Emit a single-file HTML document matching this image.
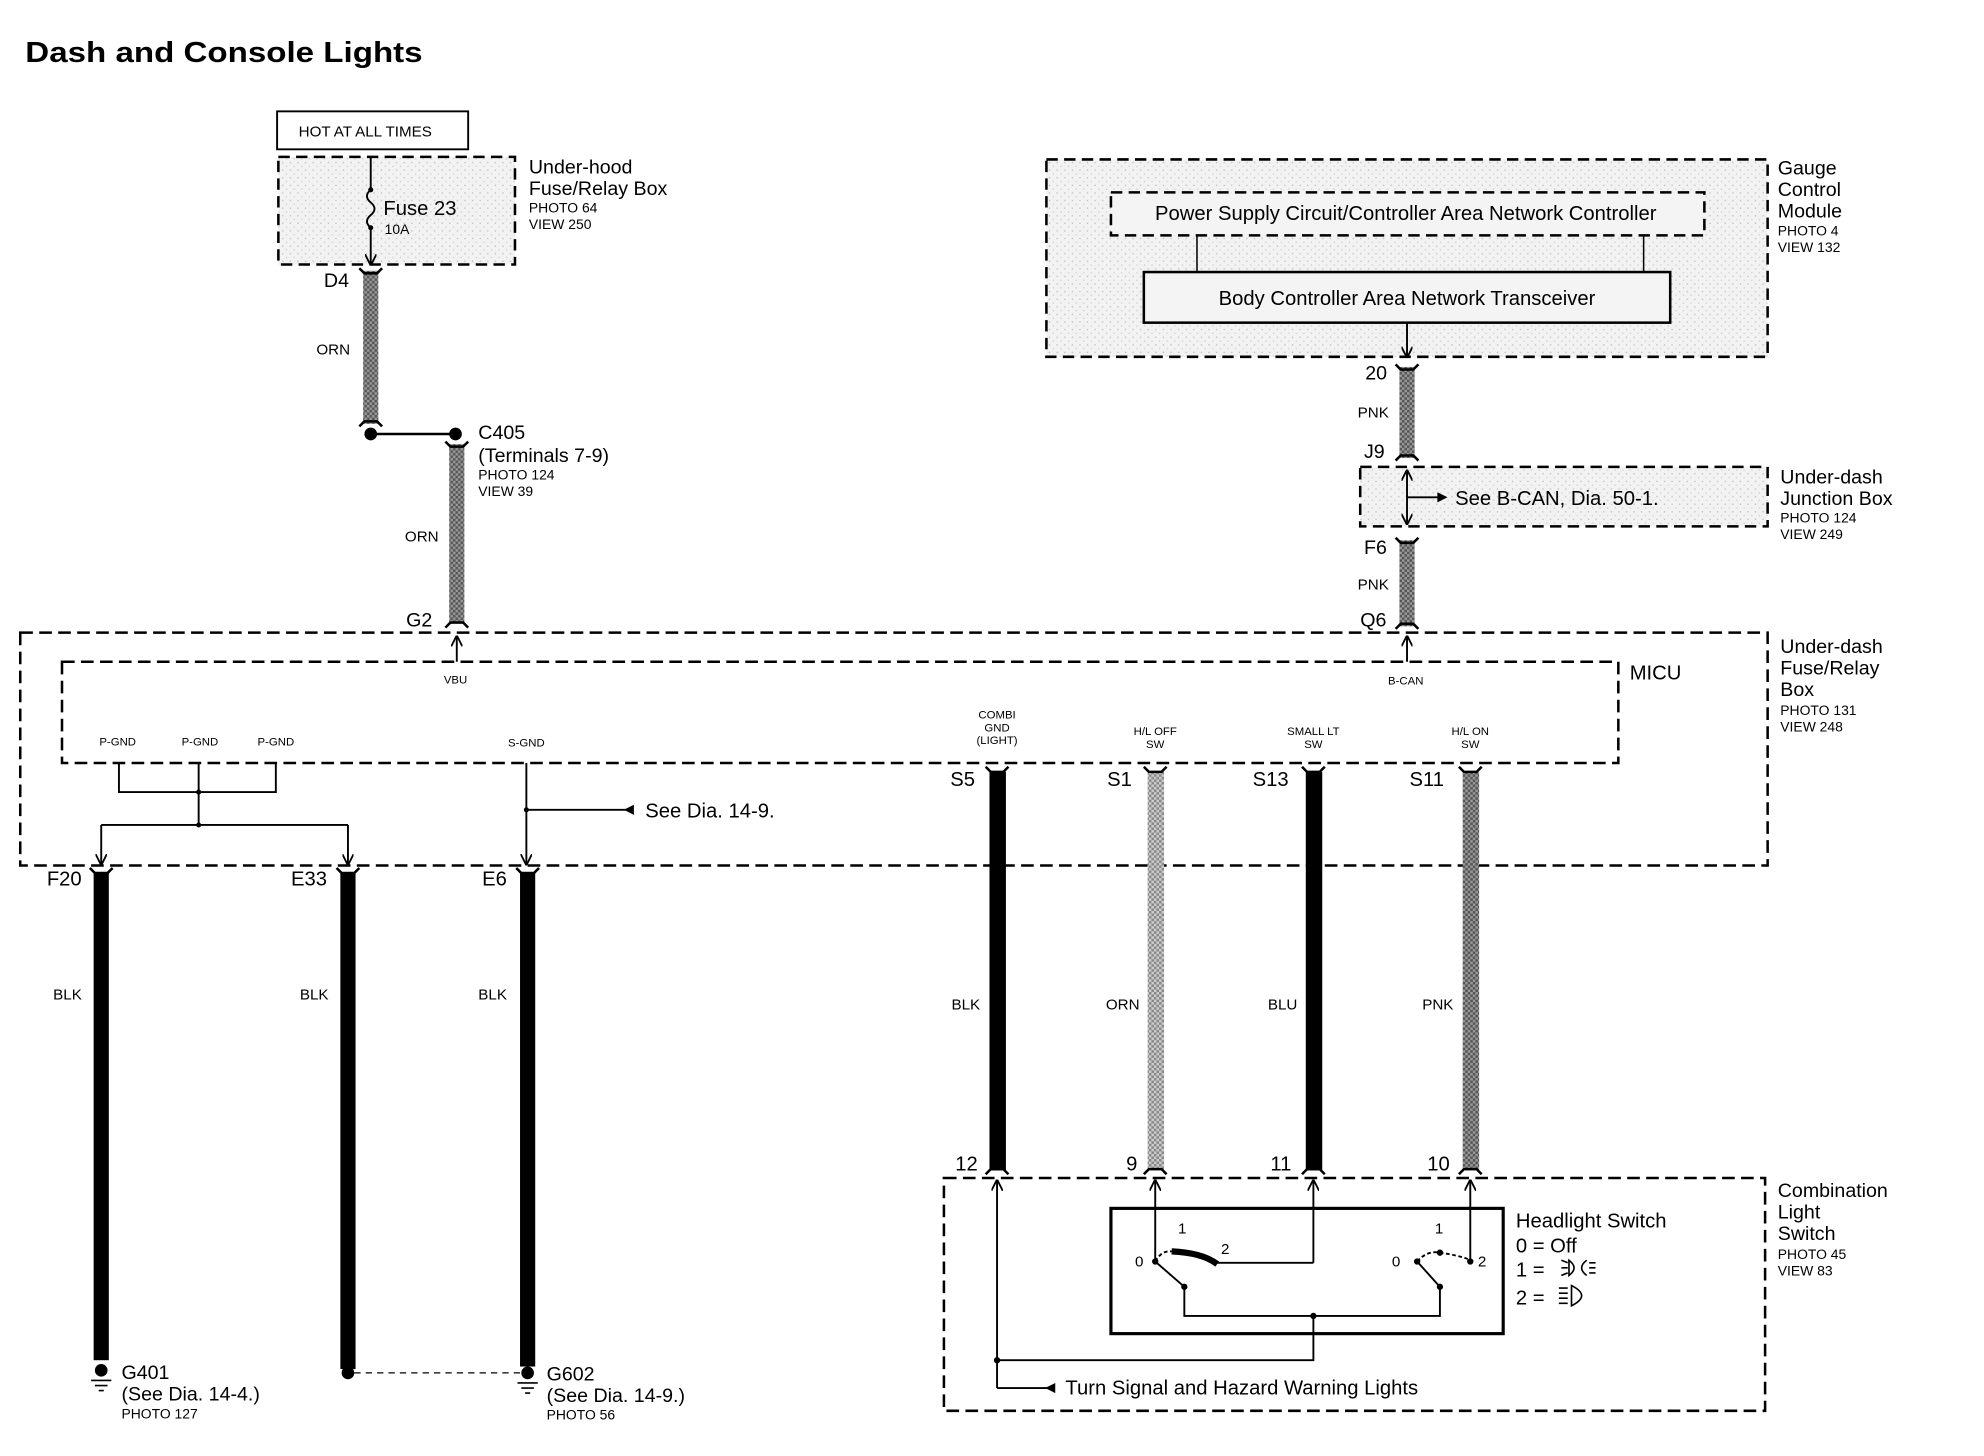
<!DOCTYPE html>
<html><head><meta charset="utf-8"><style>
html,body{margin:0;padding:0;background:#fff;}
svg{display:block;}
text{font-family:"Liberation Sans",sans-serif;fill:#000;}
.s{font-size:11px}
.m{font-size:15.5px}
.w{font-size:12px}
</style></head><body>
<svg width="1984" height="1456" viewBox="0 0 1568 1150.7" xmlns="http://www.w3.org/2000/svg">
<defs>
<pattern id="dots" width="6" height="6" patternUnits="userSpaceOnUse"><rect width="6" height="6" fill="#f2f2f2"/><rect x="1" y="2" width="1" height="1" fill="#bbb"/><rect x="4" y="5" width="1" height="1" fill="#ccc"/></pattern>
<pattern id="hatch" width="4" height="4" patternUnits="userSpaceOnUse"><rect width="4" height="4" fill="#999"/><rect width="2" height="2" fill="#555"/><rect x="2" y="2" width="2" height="2" fill="#555"/></pattern>
<pattern id="hatchL" width="4" height="4" patternUnits="userSpaceOnUse"><rect width="4" height="4" fill="#ccc"/><rect width="2" height="2" fill="#888"/><rect x="2" y="2" width="2" height="2" fill="#888"/></pattern>
<marker id="ah" viewBox="0 0 10 10" refX="9" refY="5" markerWidth="6" markerHeight="6" orient="auto"><path d="M0,0 L10,5 L0,10" fill="none" stroke="#000" stroke-width="1.6"/></marker>
</defs>
<text x="20" y="49" font-size="23" font-weight="bold" textLength="314" lengthAdjust="spacingAndGlyphs">Dash and Console Lights</text>

<rect x="219" y="88" width="151" height="30" fill="#fff" stroke="#000" stroke-width="1.5"/>
<text x="236" y="108" class="w">HOT AT ALL TIMES</text>
<rect x="220" y="124" width="187" height="85" fill="url(#dots)" stroke="#000" stroke-width="2" stroke-dasharray="9,5"/>
<path d="M293,124 V150 q-6,5 0,10 q6,5 0,10 q-6,5 0,10 V209" fill="none" stroke="#000" stroke-width="1.5" marker-end="url(#ah)"/>
<circle cx="293" cy="150" r="2" /><circle cx="293" cy="180" r="2"/>
<text x="303" y="170" font-size="16">Fuse 23</text><text x="304" y="185" class="s">10A</text>
<text x="418" y="137" class="m">Under-hood</text><text x="418" y="154" class="m">Fuse/Relay Box</text>
<text x="418" y="168" class="s">PHOTO 64</text><text x="418" y="181" class="s">VIEW 250</text>
<text x="256" y="227" class="m">D4</text>
<rect x="287" y="214" width="12" height="121" fill="url(#hatch)"/>
<path d="M284,212 l4,4 h10 l4,-4 M284,337 l4,-4 h10 l4,4" stroke="#000" stroke-width="2" fill="none"/>
<text x="250" y="280" class="w">ORN</text>
<circle cx="293" cy="343" r="5"/><line x1="293" y1="343" x2="360" y2="343" stroke="#000" stroke-width="2"/><circle cx="360" cy="343" r="5"/>
<text x="378" y="347" class="m">C405</text><text x="378" y="365" class="m">(Terminals 7-9)</text>
<text x="378" y="379" class="s">PHOTO 124</text><text x="378" y="392" class="s">VIEW 39</text>
<rect x="355" y="351" width="12" height="142" fill="url(#hatch)"/>
<path d="M352,349 l4,4 h10 l4,-4 M352,496 l4,-4 h10 l4,4" stroke="#000" stroke-width="2" fill="none"/>
<text x="320" y="428" class="w">ORN</text>
<text x="321" y="495" class="m">G2</text>
<line x1="361" y1="523" x2="361" y2="503" stroke="#000" stroke-width="1.5" marker-end="url(#ah)"/>

<rect x="827" y="126" width="570" height="156" fill="url(#dots)" stroke="#000" stroke-width="2" stroke-dasharray="9,5"/>
<rect x="878" y="152" width="469" height="34" fill="#f4f4f4" stroke="#000" stroke-width="2" stroke-dasharray="9,5"/>
<text x="1111" y="174" font-size="16" text-anchor="middle">Power Supply Circuit/Controller Area Network Controller</text>
<line x1="946" y1="186" x2="946" y2="215" stroke="#000" stroke-width="1.2"/><line x1="1299" y1="186" x2="1299" y2="215" stroke="#000" stroke-width="1.2"/>
<rect x="904" y="215" width="416" height="40" fill="#f4f4f4" stroke="#000" stroke-width="2"/>
<text x="1112" y="241" font-size="16" text-anchor="middle">Body Controller Area Network Transceiver</text>
<line x1="1112" y1="255" x2="1112" y2="282" stroke="#000" stroke-width="1.5" marker-end="url(#ah)"/>
<text x="1405" y="138" class="m">Gauge</text><text x="1405" y="155" class="m">Control</text><text x="1405" y="172" class="m">Module</text>
<text x="1405" y="186" class="s">PHOTO 4</text><text x="1405" y="199" class="s">VIEW 132</text>
<rect x="1106" y="290" width="12" height="72" fill="url(#hatch)"/>
<path d="M1103,288 l4,4 h10 l4,-4 M1103,364 l4,-4 h10 l4,4" stroke="#000" stroke-width="2" fill="none"/>
<text x="1079" y="300" class="m">20</text><text x="1073" y="330" class="w">PNK</text><text x="1078" y="362" class="m">J9</text>
<rect x="1075" y="369" width="322" height="47" fill="url(#dots)" stroke="#000" stroke-width="2" stroke-dasharray="9,5"/>
<line x1="1112" y1="393" x2="1112" y2="372" stroke="#000" stroke-width="1.5" marker-end="url(#ah)"/>
<line x1="1112" y1="393" x2="1112" y2="414" stroke="#000" stroke-width="1.5" marker-end="url(#ah)"/>
<line x1="1112" y1="393" x2="1140" y2="393" stroke="#000" stroke-width="1.5"/>
<path d="M1136,389 L1144,393 L1136,397z"/>
<text x="1150" y="399" font-size="16">See B-CAN, Dia.  50-1.</text>
<text x="1407" y="382" class="m">Under-dash</text><text x="1407" y="399" class="m">Junction Box</text>
<text x="1407" y="413" class="s">PHOTO 124</text><text x="1407" y="426" class="s">VIEW 249</text>
<rect x="1106" y="427" width="12" height="68" fill="url(#hatch)"/>
<path d="M1103,425 l4,4 h10 l4,-4 M1103,497 l4,-4 h10 l4,4" stroke="#000" stroke-width="2" fill="none"/>
<text x="1078" y="438" class="m">F6</text><text x="1073" y="466" class="w">PNK</text><text x="1075" y="495" class="m">Q6</text>
<line x1="1112" y1="523" x2="1112" y2="503" stroke="#000" stroke-width="1.5" marker-end="url(#ah)"/>

<rect x="16" y="500" width="1381" height="184" fill="none" stroke="#000" stroke-width="2" stroke-dasharray="10,5"/>
<rect x="49" y="523" width="1230" height="80" fill="none" stroke="#000" stroke-width="2" stroke-dasharray="10,5"/>
<text x="1288" y="537" font-size="16">MICU</text>
<text x="1407" y="516" class="m">Under-dash</text><text x="1407" y="533" class="m">Fuse/Relay</text><text x="1407" y="550" class="m">Box</text>
<text x="1407" y="565" class="s">PHOTO 131</text><text x="1407" y="578" class="s">VIEW 248</text>
<text x="360" y="540" font-size="9" text-anchor="middle">VBU</text>
<text x="1111" y="541" font-size="9" text-anchor="middle">B-CAN</text>
<g font-size="9" text-anchor="middle">
<text x="93" y="589">P-GND</text><text x="158" y="589">P-GND</text><text x="218" y="589">P-GND</text><text x="416" y="590">S-GND</text>
<text x="788" y="568">COMBI</text><text x="788" y="578">GND</text><text x="788" y="588">(LIGHT)</text>
<text x="913" y="581">H/L OFF</text><text x="913" y="591">SW</text>
<text x="1038" y="581">SMALL LT</text><text x="1038" y="591">SW</text>
<text x="1162" y="581">H/L ON</text><text x="1162" y="591">SW</text>
</g>
<g stroke="#000" stroke-width="1.5" fill="none">
<path d="M94,603 V626 H218 V603 M157,603 V652"/>
<path d="M80,652 H275"/>
<line x1="80" y1="652" x2="80" y2="683" marker-end="url(#ah)"/>
<line x1="275" y1="652" x2="275" y2="683" marker-end="url(#ah)"/>
<line x1="416" y1="603" x2="416" y2="683" marker-end="url(#ah)"/>
<line x1="416" y1="640" x2="497" y2="640"/>
</g>
<path d="M501,636 L493,640 L501,644z"/>
<circle cx="157" cy="626" r="2"/><circle cx="157" cy="652" r="2"/><circle cx="416" cy="640" r="2"/>
<text x="510" y="646" font-size="16">See Dia.  14-9.</text>

<g font-size="16">
<text x="37" y="700">F20</text><text x="230" y="700">E33</text><text x="381" y="700">E6</text>
<text x="751" y="621">S5</text><text x="875" y="621">S1</text><text x="990" y="621">S13</text><text x="1114" y="621">S11</text>
<text x="755" y="925">12</text><text x="890" y="925">9</text><text x="1004" y="925">11</text><text x="1128" y="925">10</text>
</g>
<g fill="#000">
<rect x="74" y="690" width="12" height="385"/><rect x="269" y="690" width="12" height="392"/><rect x="411" y="690" width="12" height="390"/>
<rect x="782" y="610" width="13" height="315"/><rect x="1032" y="610" width="13" height="315"/>
</g>
<rect x="907" y="610" width="13" height="315" fill="url(#hatchL)"/>
<rect x="1156" y="610" width="13" height="315" fill="url(#hatch)"/>
<g stroke="#000" stroke-width="2" fill="none">
<path d="M71,686 l4,4 h10 l4,-4 M266,686 l4,4 h10 l4,-4 M408,686 l4,4 h10 l4,-4"/>
<path d="M779,606 l4,4 h10 l4,-4 M904,606 l4,4 h10 l4,-4 M1029,606 l4,4 h10 l4,-4 M1153,606 l4,4 h10 l4,-4"/>
<path d="M779,928 l4,-4 h10 l4,4 M904,928 l4,-4 h10 l4,4 M1029,928 l4,-4 h10 l4,4 M1153,928 l4,-4 h10 l4,4"/>
</g>
<g class="w"><text x="42" y="790">BLK</text><text x="237" y="790">BLK</text><text x="378" y="790">BLK</text>
<text x="752" y="798">BLK</text><text x="874" y="798">ORN</text><text x="1002" y="798">BLU</text><text x="1124" y="798">PNK</text></g>

<circle cx="80" cy="1083" r="5"/><path d="M72,1091 h16 M75,1095 h10 M78,1099 h4" stroke="#000" stroke-width="1.3"/>
<circle cx="275" cy="1085" r="5"/>
<line x1="280" y1="1085" x2="412" y2="1085" stroke="#000" stroke-width="1" stroke-dasharray="5,4"/>
<circle cx="417" cy="1085" r="5"/><path d="M409,1093 h16 M412,1097 h10 M415,1101 h4" stroke="#000" stroke-width="1.3"/>
<text x="96" y="1090" class="m">G401</text><text x="96" y="1107" class="m">(See Dia.  14-4.)</text><text x="96" y="1121" class="s">PHOTO 127</text>
<text x="432" y="1091" class="m">G602</text><text x="432" y="1108" class="m">(See Dia.  14-9.)</text><text x="432" y="1122" class="s">PHOTO 56</text>

<rect x="746" y="931" width="649" height="184" fill="none" stroke="#000" stroke-width="2" stroke-dasharray="10,5"/>
<text x="1405" y="946" class="m">Combination</text><text x="1405" y="963" class="m">Light</text><text x="1405" y="980" class="m">Switch</text>
<text x="1405" y="995" class="s">PHOTO 45</text><text x="1405" y="1008" class="s">VIEW 83</text>
<rect x="878" y="955" width="310" height="99" fill="none" stroke="#000" stroke-width="2.5"/>
<g stroke="#000" stroke-width="1.5" fill="none">
<line x1="788" y1="1097" x2="788" y2="933" marker-end="url(#ah)"/>
<line x1="913" y1="997" x2="913" y2="933" marker-end="url(#ah)"/>
<line x1="1038" y1="998" x2="1038" y2="933" marker-end="url(#ah)"/>
<line x1="1162" y1="997" x2="1162" y2="933" marker-end="url(#ah)"/>
<path d="M962,998 H1038"/>
<path d="M913,997 L936,1017 V1040 H1138 V1017 L1120,997"/>
<path d="M788,1075 H1038 V1040"/>
<path d="M788,1097 H828"/>
<path d="M913,997 Q918,988 926,989" stroke-dasharray="3,2"/>
<path d="M1120,997 Q1128,988 1138,990 Q1152,992 1160,995" stroke-dasharray="3,2"/>
</g>
<path d="M834,1093 L826,1097 L834,1101z"/>
<path d="M926,989 Q950,990 962,999" stroke="#000" stroke-width="5" fill="none"/>
<circle cx="913" cy="997" r="2.5"/><circle cx="936" cy="1017" r="2.5"/><circle cx="1120" cy="997" r="2.5"/><circle cx="1138" cy="1017" r="2.5"/><circle cx="1138" cy="990" r="2.5"/><circle cx="1162" cy="997" r="2.5"/>
<circle cx="788" cy="1075" r="2.5"/><circle cx="1038" cy="1040" r="2.5"/>
<g font-size="12"><text x="931" y="975">1</text><text x="965" y="991">2</text><text x="897" y="1001">0</text>
<text x="1134" y="975">1</text><text x="1168" y="1001">2</text><text x="1100" y="1001">0</text></g>
<text x="1198" y="970" font-size="16">Headlight Switch</text>
<text x="1198" y="990" font-size="16">0 = Off</text>
<text x="1198" y="1009" font-size="16">1 = </text>
<text x="1198" y="1031" font-size="16">2 = </text>
<g stroke="#000" stroke-width="1.3" fill="none">
<path d="M1234,996 l5,2 M1234,1002 h5 M1234,1008 l5,-2 M1240,996 q8,6 0,12 z M1254,996 q-8,6 0,12 M1256,998 h5 M1256,1002 h5 M1256,1006 h5"/>
<path d="M1232,1018 h7 M1232,1022 h7 M1232,1026 h7 M1232,1030 h7 M1242,1016 q16,8 0,16 z"/>
</g>
<text x="842" y="1102" font-size="16">Turn Signal and Hazard Warning Lights</text>
</svg>
</body></html>
